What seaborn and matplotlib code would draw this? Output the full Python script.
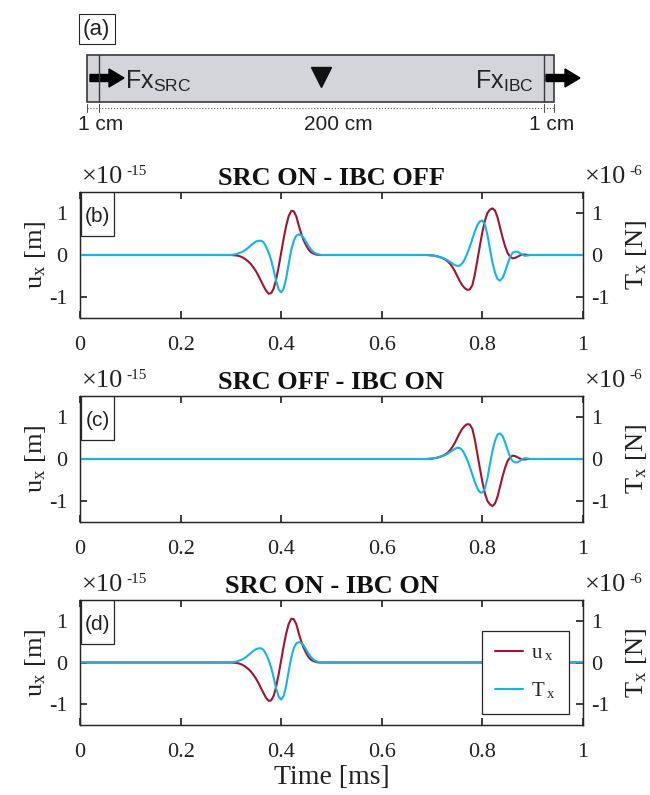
import matplotlib
matplotlib.use('Agg')
import matplotlib.pyplot as plt
import seaborn as sns
from matplotlib.patches import Rectangle

# ---- data ----
x_ticks = [0, 0.2, 0.4, 0.6, 0.8, 1]
x_tick_labels = ['0', '0.2', '0.4', '0.6', '0.8', '1']
y_ticks = [-1, 0, 1]
y_tick_labels = ['-1', '0', '1']

# direct wave (time in ms, u in 1e-15 m, T in 1e-6 N)
t_direct = [0.300, 0.305, 0.310, 0.315, 0.320, 0.325, 0.330, 0.335, 0.340, 0.345,
            0.350, 0.355, 0.360, 0.365, 0.370, 0.375, 0.380, 0.385, 0.390, 0.395,
            0.400, 0.405, 0.410, 0.415, 0.420, 0.425, 0.430, 0.435, 0.440, 0.445,
            0.450, 0.455, 0.460, 0.465, 0.470, 0.475, 0.480]
u_direct = [0, -0.005, -0.01, -0.02, -0.04, -0.07, -0.11, -0.16, -0.22, -0.30,
            -0.39, -0.50, -0.62, -0.74, -0.85, -0.92, -0.91, -0.80, -0.58, -0.28,
            0.06, 0.40, 0.70, 0.93, 1.05, 1.04, 0.92, 0.70, 0.50, 0.34,
            0.22, 0.12, 0.06, 0.03, 0.01, 0.0, 0.0]
T_direct = [0, 0.01, 0.02, 0.04, 0.06, 0.09, 0.13, 0.18, 0.23, 0.28,
            0.32, 0.34, 0.34, 0.30, 0.20, 0.06, -0.12, -0.36, -0.62, -0.82,
            -0.89, -0.80, -0.55, -0.20, 0.12, 0.34, 0.46, 0.49, 0.47, 0.40,
            0.30, 0.20, 0.12, 0.06, 0.03, 0.01, 0]

# second arrival (reflection in b, IBC wave in c)
t_late = [0.690, 0.695, 0.700, 0.705, 0.710, 0.715, 0.720, 0.725, 0.730, 0.735,
          0.740, 0.745, 0.750, 0.755, 0.760, 0.765, 0.770, 0.775, 0.780, 0.785,
          0.790, 0.795, 0.800, 0.805, 0.810, 0.815, 0.820, 0.825, 0.830, 0.835,
          0.840, 0.845, 0.850, 0.855, 0.860, 0.865, 0.870, 0.875, 0.880, 0.885,
          0.890, 0.895]
u_refl = [0, -0.005, -0.01, -0.02, -0.03, -0.05, -0.07, -0.10, -0.14, -0.20,
          -0.28, -0.38, -0.50, -0.62, -0.72, -0.79, -0.83, -0.82, -0.72, -0.46,
          -0.12, 0.22, 0.55, 0.82, 1.00, 1.08, 1.11, 1.06, 0.90, 0.66,
          0.42, 0.21, 0.05, -0.04, -0.08, -0.07, -0.04, -0.01, 0.01, 0.01,
          0, 0]
T_refl = [0, -0.005, -0.01, -0.02, -0.03, -0.05, -0.07, -0.09, -0.12, -0.16,
          -0.20, -0.24, -0.26, -0.25, -0.20, -0.10, 0.04, 0.20, 0.38, 0.56,
          0.71, 0.80, 0.82, 0.72, 0.48, 0.14, -0.18, -0.42, -0.57, -0.61,
          -0.55, -0.40, -0.22, -0.05, 0.05, 0.08, 0.08, 0.04, 0.0, -0.02,
          -0.01, 0]
u_ibc = [0, 0.005, 0.01, 0.02, 0.03, 0.05, 0.07, 0.10, 0.14, 0.20,
         0.28, 0.38, 0.50, 0.62, 0.72, 0.79, 0.83, 0.82, 0.72, 0.46,
         0.12, -0.22, -0.55, -0.82, -1.00, -1.08, -1.12, -1.06, -0.90, -0.66,
         -0.42, -0.21, -0.05, 0.04, 0.08, 0.07, 0.04, 0.01, -0.01, -0.01,
         0, 0]
T_ibc = [0, 0.005, 0.01, 0.02, 0.03, 0.05, 0.07, 0.09, 0.12, 0.16,
         0.20, 0.24, 0.27, 0.26, 0.21, 0.11, -0.03, -0.19, -0.37, -0.55,
         -0.70, -0.79, -0.80, -0.70, -0.46, -0.12, 0.19, 0.43, 0.58, 0.61,
         0.55, 0.40, 0.22, 0.05, -0.05, -0.08, -0.08, -0.04, 0, 0.02,
         0.01, 0]

titles = ['SRC ON - IBC OFF', 'SRC OFF - IBC ON', 'SRC ON - IBC ON']
tags = ['(b)', '(c)', '(d)']

# full records: quiet at 0 and 1 ms
t_b = [0] + t_direct + t_late + [1]
u_b = [0] + u_direct + u_refl + [0]
T_b = [0] + T_direct + T_refl + [0]
t_c = [0] + t_late + [1]
u_c = [0] + u_ibc + [0]
T_c = [0] + T_ibc + [0]
t_d = [0] + t_direct + [1]
u_d = [0] + u_direct + [0]
T_d = [0] + T_direct + [0]

RED = '#A2142F'
BLUE = '#12B5EA'
DARK = '#262626'
TXT = '#222222'
SANS = ['Liberation Sans', 'DejaVu Sans']

sns.set_theme(style='white')
plt.rcParams['font.family'] = ['Liberation Serif', 'DejaVu Serif']
plt.rcParams['mathtext.fontset'] = 'stix'
plt.rcParams['axes.unicode_minus'] = False

W, H = 650, 795
fig = plt.figure(figsize=(W / 100, H / 100), dpi=100)

# ---- (a) schematic ----
ax_a = fig.add_axes([0, 1 - 140 / H, 1, 140 / H])
ax_a.set_xlim(0, W)
ax_a.set_ylim(140, 0)
ax_a.axis('off')
bar_l, bar_r, bar_t, bar_b = 87, 554, 55, 102
src_x, ibc_x = 99, 544
ax_a.add_patch(Rectangle((bar_l, bar_t), bar_r - bar_l, bar_b - bar_t,
                         fc='#d4d5da', ec='#3a3a3a', lw=1.2))
ax_a.plot([src_x, src_x], [bar_t, bar_b], color='#3a3a3a', lw=1)
ax_a.plot([ibc_x, ibc_x], [bar_t, bar_b], color='#3a3a3a', lw=1)
ax_a.arrow(90, 78, 34, 0, width=7, head_width=18, head_length=15,
           length_includes_head=True, fc='black', ec='black')
ax_a.arrow(546, 78, 34, 0, width=7, head_width=18, head_length=15,
           length_includes_head=True, fc='black', ec='black')
ax_a.plot([321], [77], marker='v', ms=14, color='#111111')
ax_a.text(125, 81, r'Fx$_{\mathregular{SRC}}$', family=SANS, size=18,
          ha='left', va='center', color=TXT)
ax_a.text(534, 81, r'Fx$_{\mathregular{IBC}}$', family=SANS, size=18,
          ha='right', va='center', color=TXT)
ax_a.plot([bar_l, bar_r], [108, 108], ls=':', color='#555555', lw=0.8)
for xx in [bar_l, src_x, ibc_x, bar_r]:
    ax_a.plot([xx, xx], [104, 112], color='#555555', lw=0.8)
ax_a.text(101, 125, '1 cm', family=SANS, size=15, ha='center', va='center', color=TXT)
ax_a.text(338, 125, '200 cm', family=SANS, size=15, ha='center', va='center', color=TXT)
ax_a.text(552, 125, '1 cm', family=SANS, size=15, ha='center', va='center', color=TXT)
ax_a.text(83, 29, '(a)', family=SANS, size=16, ha='left', va='center', color=TXT,
          bbox=dict(boxstyle='square,pad=0.2', fc='white', ec=DARK, lw=0.8))

# ---- (b)-(d) traces ----
panels = [(192, 318, t_b, u_b, T_b), (396, 522, t_c, u_c, T_c), (600, 725, t_d, u_d, T_d)]

for i, (top, bot, t, u, T) in enumerate(panels):
    h = bot - top
    ax = fig.add_axes([80 / W, 1 - bot / H, 503 / W, h / H])
    sns.lineplot(x=t, y=u, ax=ax, color=RED, lw=1.5,
                 label=r'u$_{\;\mathregular{x}}$', legend=False)
    ax2 = ax.twinx()
    sns.lineplot(x=t, y=T, ax=ax2, color=BLUE, lw=1.5,
                 label=r'T$_{\;\mathregular{x}}$', legend=False)

    for a in (ax, ax2):
        a.set_xlim(0, 1)
        a.set_ylim(-1.5, 1.5)
        a.set_yticks(y_ticks)
        a.set_yticklabels(y_tick_labels, fontsize=16)
        for s in a.spines.values():
            s.set_color(DARK)
            s.set_linewidth(0.9)
    ax.set_xticks(x_ticks)
    ax.set_xticklabels(x_tick_labels, fontsize=16)
    ax.tick_params(axis='x', direction='in', top=True, bottom=True, length=5,
                   color=DARK, pad=13, labelcolor=TXT)
    ax.tick_params(axis='y', direction='in', left=True, right=False, length=5,
                   color=DARK, pad=9, labelcolor=TXT)
    ax2.tick_params(axis='y', direction='in', right=True, left=False, length=5,
                    color=DARK, pad=6, labelcolor=TXT)
    ax.set_ylabel(r'u$_{\mathregular{x}}$ [m]', fontsize=19, labelpad=1, color=TXT)
    ax2.set_ylabel(r'T$_{\mathregular{x}}$ [N]', fontsize=19, labelpad=10, color=TXT)
    ax.set_title(titles[i], fontsize=19, fontweight='bold', pad=5, color='#111111')

    # panel tag in a box hugging the top-left corner
    ax.add_patch(Rectangle((0.002, 1 - 44 / h), 33 / 503, 44 / h, transform=ax.transAxes,
                           fc='white', ec=DARK, lw=0.9, zorder=5))
    ax.text(0.002 + 16.5 / 503, 1 - 24 / h, tags[i], transform=ax.transAxes, family=SANS,
            size=15, ha='center', va='center', color=TXT, zorder=6)

    ax.annotate('×10', xy=(0, 1), xycoords='axes fraction', xytext=(2, 4),
                textcoords='offset pixels', fontsize=19, ha='left', va='bottom', color=TXT)
    ax.annotate('-15', xy=(0, 1), xycoords='axes fraction', xytext=(46, 14),
                textcoords='offset pixels', fontsize=11, ha='left', va='bottom', color=TXT)
    ax2.annotate('×10', xy=(1, 1), xycoords='axes fraction', xytext=(2, 4),
                 textcoords='offset pixels', fontsize=19, ha='left', va='bottom', color=TXT)
    ax2.annotate('-6', xy=(1, 1), xycoords='axes fraction', xytext=(46, 14),
                 textcoords='offset pixels', fontsize=11, ha='left', va='bottom', color=TXT)

    if i == 2:
        ax.set_xlabel('Time [ms]', fontsize=20, color=TXT, labelpad=2)
        handles = ax.get_lines()[:1] + ax2.get_lines()[:1]
        leg = ax2.legend(handles, [hd.get_label() for hd in handles], loc='lower right',
                         bbox_to_anchor=(0.972, 0.088), borderaxespad=0, fontsize=15,
                         frameon=True, fancybox=False, framealpha=1, edgecolor=DARK,
                         handlelength=1.35, handletextpad=0.4, borderpad=0.6,
                         labelspacing=0.85)
        leg.get_frame().set_linewidth(0.9)

fig.savefig('out.png', dpi=100)
